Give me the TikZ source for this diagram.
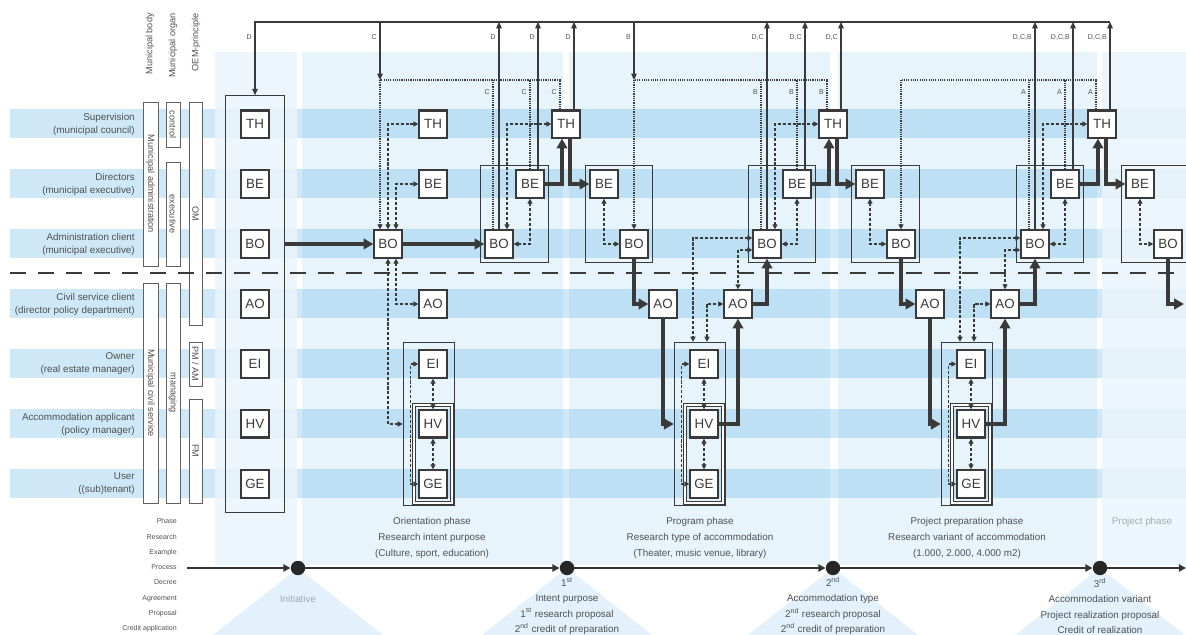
\documentclass[tikz,border=0pt]{standalone}
\usepackage{fontspec}
\setmainfont{Liberation Sans}
\usetikzlibrary{arrows.meta,fit}
\definecolor{stripeblue}{RGB}{206,232,248}
\definecolor{phaseblue}{RGB}{110,185,232}
\definecolor{paleblue}{RGB}{234,244,251}
\definecolor{triblue}{RGB}{226,241,251}
\definecolor{linegray}{RGB}{58,58,58}
\definecolor{txtgray}{RGB}{80,80,80}
\definecolor{palegray}{RGB}{160,172,182}

\begin{document}
\begin{tikzpicture}[x=0.025cm, y=-0.025cm,
role/.style={draw=linegray, fill=white, line width=0.9pt, minimum size=7mm, inner sep=0pt, font=\fontsize{9.5}{10}\selectfont, text=linegray},
thbox/.style={role, path picture={\draw[line width=3pt, linegray] (path picture bounding box.north west) -- (path picture bounding box.north east);}},
hvbox/.style={role, path picture={\draw[line width=3pt, linegray] (path picture bounding box.south west) -- (path picture bounding box.south east);}},
grp/.style={draw=linegray, line width=0.8pt, inner sep=1mm},
sub/.style={draw=linegray, double=white, double distance=1pt, line width=0.6pt, inner xsep=1.1mm, inner ysep=1.1mm},
heavy/.style={line width=2.5pt, draw=linegray, -{Triangle[length=7pt,width=7.5pt]}},
dsh/.style={line width=1pt, draw=linegray, dash pattern=on 2.2pt off 1.3pt, {Triangle[length=3.6pt,width=3.6pt]}-{Triangle[length=3.6pt,width=3.6pt]}},
fbdot/.style={line width=1pt, draw=linegray, dash pattern=on 0.8pt off 0.8pt},
fbarr/.style={fbdot, -{Triangle[length=3.6pt,width=3.6pt]}},
thinarr/.style={line width=0.8pt, draw=linegray, -{Triangle[length=4.5pt,width=4pt]}},
tline/.style={line width=1.6pt, draw=black!80, -{Triangle[length=5pt,width=5pt]}},
dot/.style={circle, fill=black!85, minimum size=3.6mm, inner sep=0pt},
lbl/.style={font=\fontsize{5}{6}\selectfont, text=txtgray, anchor=east, inner sep=0pt},
rowlbl/.style={font=\fontsize{7}{9.2}\selectfont, text=txtgray, align=right, anchor=east, inner sep=0pt},
hdr/.style={font=\fontsize{6.5}{7}\selectfont, text=txtgray, rotate=90, anchor=east, inner sep=0pt},
colbox/.style={draw=linegray!80, fill=white, line width=0.6pt, inner sep=0pt, rotate=-90, font=\fontsize{6.5}{7}\selectfont, text=txtgray},
phtxt/.style={font=\fontsize{7}{11.3}\selectfont, text=txtgray, align=center},
mstxt/.style={font=\fontsize{7}{10.9}\selectfont, text=txtgray, align=center},
]
\useasboundingbox (0,0) rectangle (1186,635);

\foreach \y in {124,184,...,484}
  \fill[stripeblue] (10,\y-14.5) rectangle (1186,\y+14.5);
\foreach \a/\b in {302/563,569/830,838/1097}
  \fill[phaseblue, opacity=0.16] (\a,52) rectangle (\b,565);
\foreach \a/\b in {215/297,1102/1186}
  \fill[paleblue, opacity=0.85] (\a,52) rectangle (\b,565);
\foreach \x in {298,567,833,1100}
  \fill[triblue] (\x,568) -- (\x-85,635) -- (\x+85,635) -- cycle;

\node[hdr] (hbody) at (150,13) {Municipal body};
\node[hdr] (horgan) at (173,13) {Municipal organ};
\node[hdr] (hoem) at (196,13) {OEM-principle};
\node[colbox, minimum width=41mm, minimum height=3.75mm] (cadm) at (150.5,184) {Municipal administration};
\node[colbox, minimum width=55mm, minimum height=3.75mm] (cciv) at (150.5,393) {Municipal civil service};
\node[colbox, minimum width=11.25mm, minimum height=3.5mm] (cctl) at (173,124.5) {control};
\node[colbox, minimum width=26mm, minimum height=3.5mm] (cexe) at (173,214) {executive};
\node[colbox, minimum width=55mm, minimum height=3.5mm] (cmng) at (173,393) {managing};
\node[colbox, minimum width=55.75mm, minimum height=3.25mm] (com) at (195.5,213.5) {OM};
\node[colbox, minimum width=11mm, minimum height=3.25mm] (cpam) at (195.5,364) {PM / AM};
\node[colbox, minimum width=26mm, minimum height=3.25mm] (cfm) at (195.5,451) {FM};

\node[rowlbl] (r1) at (135,124) {Supervision\\(municipal council)};
\node[rowlbl] (r2) at (135,184) {Directors\\(municipal executive)};
\node[rowlbl] (r3) at (135,244) {Administration client\\(municipal executive)};
\node[rowlbl] (r4) at (135,304) {Civil service client\\(director policy department)};
\node[rowlbl] (r5) at (135,364) {Owner\\(real estate manager)};
\node[rowlbl] (r6) at (135,424) {Accommodation applicant\\(policy manager)};
\node[rowlbl] (r7) at (135,484) {User\\((sub)tenant)};

\draw[linegray, line width=2pt, dash pattern=on 4mm off 3mm] (10,273) -- (1186,273);

\coordinate (ts) at (187,568);
\coordinate (te) at (1186,568);
\node[dot] (m0) at (298,568) {};
\node[dot] (m1) at (567,568) {};
\node[dot] (m2) at (833,568) {};
\node[dot] (m3) at (1100,568) {};
\draw[tline] (ts) -- (m0);
\draw[tline] (m0) -- (m1);
\draw[tline] (m1) -- (m2);
\draw[tline] (m2) -- (m3);
\draw[tline] (m3) -- (te);

\node[lbl, font=\fontsize{5}{10.85}\selectfont, align=right] (steps) at (177,575.5) {Phase\\Research\\Example\\Process\\Decree\\Agreement\\Proposal\\Credit application};
\node[phtxt] (ph1) at (432,538) {Orientation phase\\Research intent purpose\\(Culture, sport, education)};
\node[phtxt] (ph2) at (700,538) {Program phase\\Research type of accommodation\\(Theater, music venue, library)};
\node[phtxt] (ph3) at (967,538) {Project preparation phase\\Research variant of accommodation\\(1.000, 2.000, 4.000 m2)};
\node[phtxt, text=palegray] (ph4) at (1142,522) {Project phase};
\node[mstxt, text=palegray] (ms0) at (298,599) {Initiative};
\node[mstxt] (ms1) at (567,606) {1\textsuperscript{st}\\Intent purpose\\1\textsuperscript{st} research proposal\\2\textsuperscript{nd} credit of preparation};
\node[mstxt] (ms2) at (833,606) {2\textsuperscript{nd}\\Accommodation type\\2\textsuperscript{nd} research proposal\\2\textsuperscript{nd} credit of preparation};
\node[mstxt] (ms3) at (1100,606) {3\textsuperscript{rd}\\Accommodation variant\\Project realization proposal\\Credit of realization};

\node[thbox] (th0) at (255,124) {TH};
\node[role] (be0) at (255,184) {BE};
\node[role] (bo0) at (255,244) {BO};
\node[role] (ao0) at (255,304) {AO};
\node[role] (ei0) at (255,364) {EI};
\node[hvbox] (hv0) at (255,424) {HV};
\node[role] (ge0) at (255,484) {GE};
\node[grp, fit=(th0)(ge0), inner xsep=3.7mm, inner ysep=3.4mm] (init) {};

\node[role] (bo1) at (388,244) {BO};
\node[thbox] (th1) at (433,124) {TH};
\node[role] (be1) at (433,184) {BE};
\node[role] (ao1) at (433,304) {AO};
\node[role] (ei1) at (433,364) {EI};
\node[hvbox] (hv1) at (433,424) {HV};
\node[role] (ge1) at (433,484) {GE};
\coordinate (lp1) at ([xshift=-2mm]ge1.west);
\node[sub, fit=(hv1)(ge1)] (in1) {};
\node[grp, fit=(ei1)(ge1)(lp1), inner sep=1.75mm] (g1) {};
\node[role] (bo1e) at (499,244) {BO};
\node[role] (be1e) at (530,184) {BE};
\node[grp, fit=(bo1e)(be1e)] (e1) {};
\node[thbox] (th1e) at (566,124) {TH};

\node[role] (be2s) at (604,184) {BE};
\node[role] (bo2s) at (634,244) {BO};
\node[grp, fit=(be2s)(bo2s)] (s2) {};
\node[role] (ao2) at (663,304) {AO};
\node[role] (ei2) at (704,364) {EI};
\node[hvbox] (hv2) at (704,424) {HV};
\node[role] (ge2) at (704,484) {GE};
\coordinate (lp2) at ([xshift=-2mm]ge2.west);
\node[sub, fit=(hv2)(ge2)] (in2) {};
\node[grp, fit=(ei2)(ge2)(lp2), inner sep=1.75mm] (g2) {};
\node[role] (ao2e) at (738,304) {AO};
\node[role] (bo2e) at (767,244) {BO};
\node[role] (be2e) at (797,184) {BE};
\node[grp, fit=(bo2e)(be2e)] (e2) {};
\node[thbox] (th2e) at (833,124) {TH};

\node[role] (be3s) at (870,184) {BE};
\node[role] (bo3s) at (901,244) {BO};
\node[grp, fit=(be3s)(bo3s)] (s3) {};
\node[role] (ao3) at (930,304) {AO};
\node[role] (ei3) at (971,364) {EI};
\node[hvbox] (hv3) at (971,424) {HV};
\node[role] (ge3) at (971,484) {GE};
\coordinate (lp3) at ([xshift=-2mm]ge3.west);
\node[sub, fit=(hv3)(ge3)] (in3) {};
\node[grp, fit=(ei3)(ge3)(lp3), inner sep=1.75mm] (g3) {};
\node[role] (ao3e) at (1005,304) {AO};
\node[role] (bo3e) at (1035,244) {BO};
\node[role] (be3e) at (1065,184) {BE};
\node[grp, fit=(bo3e)(be3e)] (e3) {};
\node[thbox] (th3e) at (1102,124) {TH};

\node[role] (be4) at (1140,184) {BE};
\node[role] (bo4) at (1168,244) {BO};
\node[grp, fit=(be4)(bo4)] (s4) {};
\coordinate (out) at (1184,304);

\coordinate (tl) at (255,22);
\coordinate (tr) at (1110,22);
\coordinate (c1) at (380,80);
\coordinate (c2) at (634,80);
\coordinate (c3) at (901,80);

\draw[thinarr] (tr) -- (tl) -- (tl |- init.north);
\draw[heavy] (init.east |- bo0) -- (bo1.west);
\draw[dsh] (bo1.north) |- (th1.west);
\draw[dsh] ([xshift=2mm]bo1.north) |- (be1.west);
\draw[dsh] ([xshift=2mm]bo1.south) |- (ao1.west);
\draw[dsh] (bo1.south) |- (g1.west |- hv1);
\draw[dsh] (ei1.south) -- (hv1.north);
\draw[dsh] (hv1.south) -- (ge1.north);
\draw[dsh] (ei1.west) -- ++(-2mm,0) |- (ge1.west);
\draw[heavy] (bo1.east) -- (bo1e.west);
\draw[dsh] (be1e.south) |- (bo1e.east);
\draw[dsh] ([xshift=2mm]bo1e.north) |- (th1e.west);
\draw[heavy] (be1e.east) -| ([xshift=-1mm]th1e.south);
\draw[heavy] ([xshift=1mm]th1e.south) |- (be2s.west);
\draw[thinarr] (bo1e.north) -- (bo1e.north |- tl);
\draw[thinarr] ([xshift=2mm]be1e.north) -- ([xshift=2mm]be1e.north |- tl);
\draw[thinarr] ([xshift=2mm]th1e.north) -- ([xshift=2mm]th1e.north |- tl);
\draw[fbdot] ([xshift=-1.5mm]bo1e.north) -- ([xshift=-1.5mm]bo1e.north |- c1);
\draw[fbdot] (be1e.north) -- (be1e.north |- c1);
\draw[fbdot] ([xshift=-1.5mm]th1e.north) |- (c1);
\draw[thinarr] (c1 |- tl) -- (c1);
\draw[fbarr] (c1) -- (c1 |- bo1.north);

\draw[dsh] (be2s.south) |- (bo2s.west);
\draw[heavy] (bo2s.south) |- (ao2.west);
\draw[heavy] (ao2.south) |- (g2.west |- hv2);
\draw[dsh] (ei2.south) -- (hv2.north);
\draw[dsh] (hv2.south) -- (ge2.north);
\draw[dsh] (ei2.west) -- ++(-2mm,0) |- (ge2.west);
\draw[heavy] (hv2.east) -| (ao2e.south);
\draw[heavy] (ao2e.east) -| (bo2e.south);
\draw[dsh] ([yshift=1.5mm]bo2e.west) -| ([xshift=-1.75mm]g2.north);
\draw[dsh] ([yshift=-1.5mm]bo2e.west) -| (ao2e.north);
\draw[dsh] ([xshift=1.75mm]g2.north) |- (ao2e.west);
\draw[dsh] (be2e.south) |- (bo2e.east);
\draw[dsh] ([xshift=2mm]bo2e.north) |- (th2e.west);
\draw[heavy] (be2e.east) -| ([xshift=-1mm]th2e.south);
\draw[heavy] ([xshift=1mm]th2e.south) |- (be3s.west);
\draw[thinarr] (bo2e.north) -- (bo2e.north |- tl);
\draw[thinarr] ([xshift=2mm]be2e.north) -- ([xshift=2mm]be2e.north |- tl);
\draw[thinarr] ([xshift=2mm]th2e.north) -- ([xshift=2mm]th2e.north |- tl);
\draw[fbdot] ([xshift=-1.5mm]bo2e.north) -- ([xshift=-1.5mm]bo2e.north |- c2);
\draw[fbdot] (be2e.north) -- (be2e.north |- c2);
\draw[fbdot] ([xshift=-1.5mm]th2e.north) |- (c2);
\draw[thinarr] (c2 |- tl) -- (c2);
\draw[fbarr] (c2) -- (c2 |- bo2s.north);

\draw[dsh] (be3s.south) |- (bo3s.west);
\draw[heavy] (bo3s.south) |- (ao3.west);
\draw[heavy] (ao3.south) |- (g3.west |- hv3);
\draw[dsh] (ei3.south) -- (hv3.north);
\draw[dsh] (hv3.south) -- (ge3.north);
\draw[dsh] (ei3.west) -- ++(-2mm,0) |- (ge3.west);
\draw[heavy] (hv3.east) -| (ao3e.south);
\draw[heavy] (ao3e.east) -| (bo3e.south);
\draw[dsh] ([yshift=1.5mm]bo3e.west) -| ([xshift=-1.75mm]g3.north);
\draw[dsh] ([yshift=-1.5mm]bo3e.west) -| (ao3e.north);
\draw[dsh] ([xshift=1.75mm]g3.north) |- (ao3e.west);
\draw[dsh] (be3e.south) |- (bo3e.east);
\draw[dsh] ([xshift=2mm]bo3e.north) |- (th3e.west);
\draw[heavy] (be3e.east) -| ([xshift=-1mm]th3e.south);
\draw[heavy] ([xshift=1mm]th3e.south) |- (be4.west);
\draw[thinarr] (bo3e.north) -- (bo3e.north |- tl);
\draw[thinarr] ([xshift=2mm]be3e.north) -- ([xshift=2mm]be3e.north |- tl);
\draw[thinarr] ([xshift=2mm]th3e.north) -- ([xshift=2mm]th3e.north |- tl);
\draw[fbdot] ([xshift=-1.5mm]bo3e.north) -- ([xshift=-1.5mm]bo3e.north |- c3);
\draw[fbdot] (be3e.north) -- (be3e.north |- c3);
\draw[fbdot] ([xshift=-1.5mm]th3e.north) |- (c3);
\draw[fbarr] (c3) -- (c3 |- bo3s.north);

\draw[dsh] (be4.south) |- (bo4.west);
\draw[heavy] (bo4.south) |- (out);

\foreach \x/\t [count=\i] in {252/D,377/C,496/D,535/D,571/D,631/B,764/{D,C},802/{D,C},838/{D,C},1032/{D,C,B},1070/{D,C,B},1107/{D,C,B}}
  \node[lbl] (tlab\i) at (\x,37) {\t};
\foreach \x/\t [count=\i] in {490/C,527/C,557/C,758/B,794/B,824/B,1026/A,1062/A,1093/A}
  \node[lbl] (flab\i) at (\x,92) {\t};
\end{tikzpicture}
\end{document}
